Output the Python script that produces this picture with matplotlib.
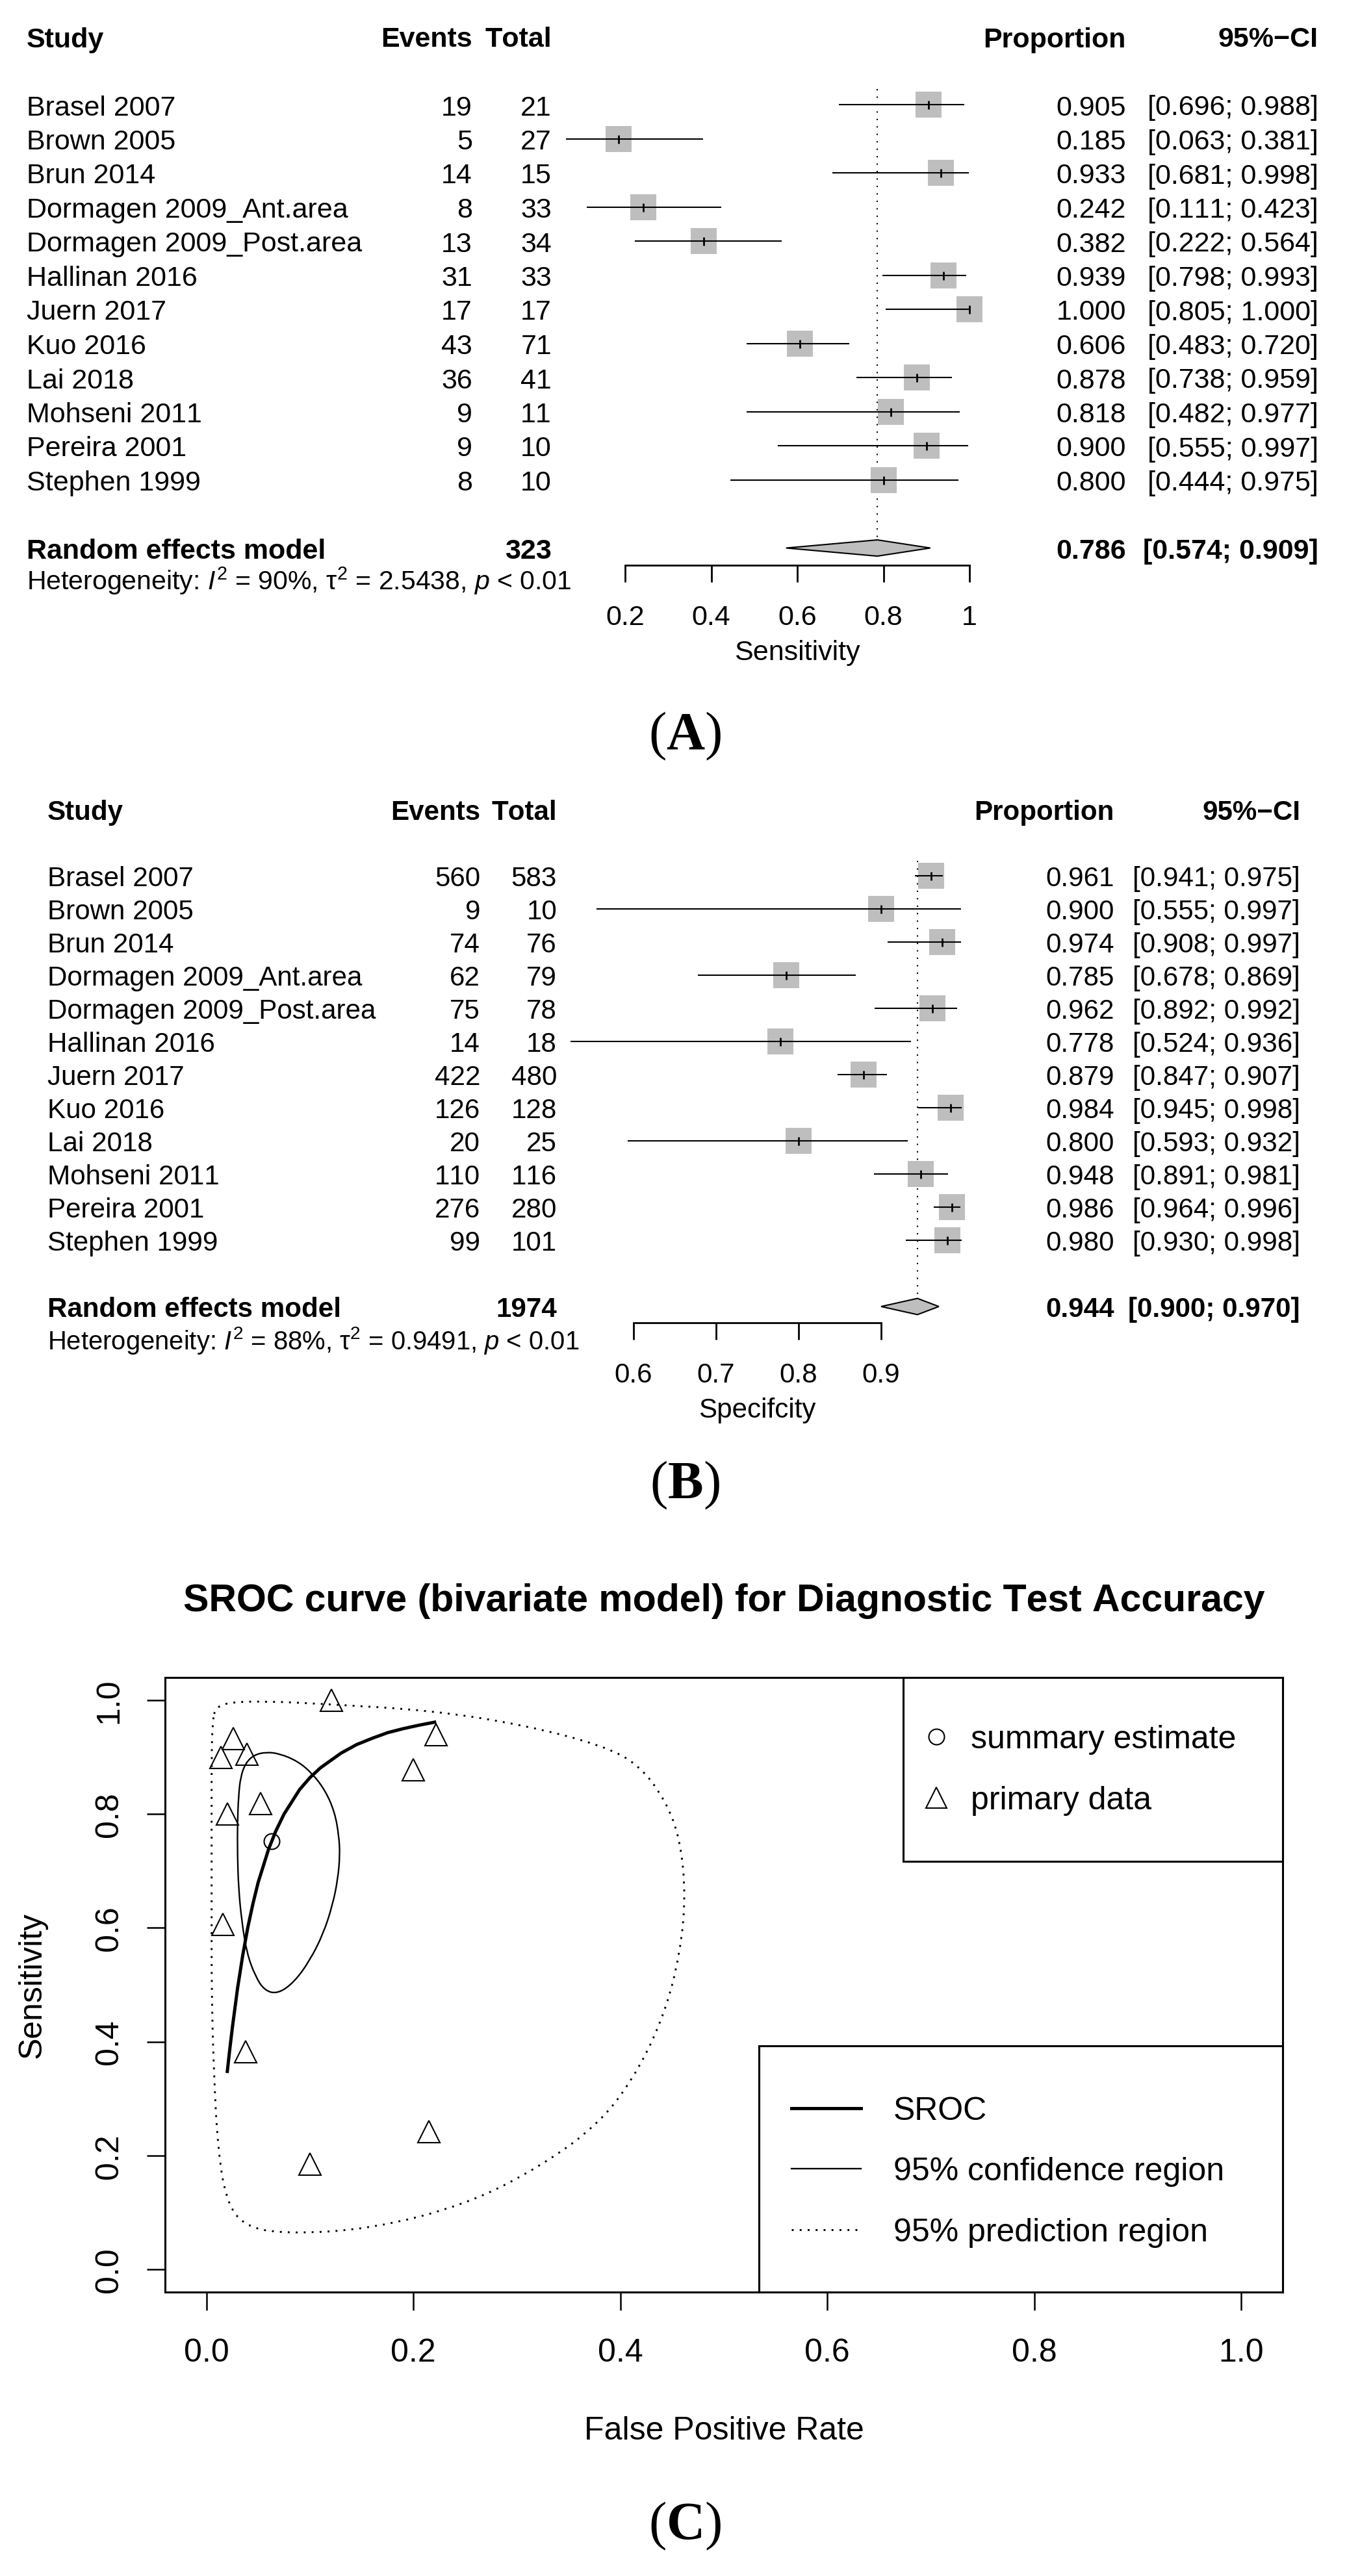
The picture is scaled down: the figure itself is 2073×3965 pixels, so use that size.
import matplotlib
matplotlib.use("Agg")
import matplotlib.pyplot as plt
from matplotlib.transforms import blended_transform_factory
from matplotlib.patches import Rectangle, Polygon, PathPatch
from matplotlib.path import Path
from matplotlib.lines import Line2D

plt.rcParams['font.family'] = ['Liberation Sans', 'DejaVu Sans']
plt.rcParams['mathtext.fontset'] = 'custom'
plt.rcParams['mathtext.rm'] = 'Liberation Sans'
plt.rcParams['mathtext.it'] = 'Liberation Sans:italic'
plt.rcParams['mathtext.bf'] = 'Liberation Serif:bold'
try:
    plt.rcParams['text.kerning_factor'] = 12   # R draws without kerning
except Exception:
    pass

# ---------------------------------------------------------------- data
studies = ["Brasel 2007", "Brown 2005", "Brun 2014", "Dormagen 2009_Ant.area",
           "Dormagen 2009_Post.area", "Hallinan 2016", "Juern 2017", "Kuo 2016",
           "Lai 2018", "Mohseni 2011", "Pereira 2001", "Stephen 1999"]

sens_events = [19, 5, 14, 8, 13, 31, 17, 43, 36, 9, 9, 8]
sens_totals = [21, 27, 15, 33, 34, 33, 17, 71, 41, 11, 10, 10]
sens_prop = [0.905, 0.185, 0.933, 0.242, 0.382, 0.939, 1.000, 0.606, 0.878, 0.818, 0.900, 0.800]
sens_lo = [0.696, 0.063, 0.681, 0.111, 0.222, 0.798, 0.805, 0.483, 0.738, 0.482, 0.555, 0.444]
sens_hi = [0.988, 0.381, 0.998, 0.423, 0.564, 0.993, 1.000, 0.720, 0.959, 0.977, 0.997, 0.975]
sens_pooled = [0.786, 0.574, 0.909]
sens_total = 323
sens_het = r"Heterogeneity: $\mathit{I}^2$ = 90%, τ$^2$ = 2.5438, $\mathit{p}$ < 0.01"
sens_ticks = [0.2, 0.4, 0.6, 0.8, 1.0]
sens_ticklabels = ["0.2", "0.4", "0.6", "0.8", "1"]

spec_events = [560, 9, 74, 62, 75, 14, 422, 126, 20, 110, 276, 99]
spec_totals = [583, 10, 76, 79, 78, 18, 480, 128, 25, 116, 280, 101]
spec_prop = [0.961, 0.900, 0.974, 0.785, 0.962, 0.778, 0.879, 0.984, 0.800, 0.948, 0.986, 0.980]
spec_lo = [0.941, 0.555, 0.908, 0.678, 0.892, 0.524, 0.847, 0.945, 0.593, 0.891, 0.964, 0.930]
spec_hi = [0.975, 0.997, 0.997, 0.869, 0.992, 0.936, 0.907, 0.998, 0.932, 0.981, 0.996, 0.998]
spec_pooled = [0.944, 0.900, 0.970]
spec_total = 1974
spec_het = r"Heterogeneity: $\mathit{I}^2$ = 88%, τ$^2$ = 0.9491, $\mathit{p}$ < 0.01"
spec_ticks = [0.6, 0.7, 0.8, 0.9]
spec_ticklabels = ["0.6", "0.7", "0.8", "0.9"]

# SROC panel (bivariate model)
summary_fpr = [0.063]
summary_sens = [0.752]
sroc_fpr = [0.020, 0.0225, 0.025, 0.030, 0.035, 0.040, 0.045, 0.050, 0.060, 0.067, 0.075,
            0.090, 0.100, 0.110, 0.130, 0.145, 0.160, 0.175, 0.190, 0.205, 0.222]
sroc_sens = [0.345, 0.386, 0.424, 0.493, 0.551, 0.601, 0.643, 0.680, 0.738, 0.770, 0.800,
             0.843, 0.864, 0.881, 0.907, 0.922, 0.933, 0.943, 0.950, 0.956, 0.962]
conf_fpr = [0.058, 0.071, 0.088, 0.102, 0.115, 0.124, 0.128, 0.129, 0.127, 0.122, 0.113,
            0.100, 0.085, 0.069, 0.056, 0.047, 0.039, 0.034, 0.031, 0.030, 0.030, 0.031,
            0.033, 0.038, 0.046]
conf_sens = [0.909, 0.906, 0.893, 0.872, 0.841, 0.803, 0.762, 0.728, 0.686, 0.641, 0.590,
             0.543, 0.505, 0.484, 0.490, 0.516, 0.556, 0.613, 0.671, 0.728, 0.785, 0.831,
             0.866, 0.890, 0.904]
pred_fpr = [0.009, 0.024, 0.060, 0.109, 0.219, 0.308, 0.382, 0.418, 0.444, 0.458, 0.463,
            0.458, 0.444, 0.418, 0.382, 0.326, 0.253, 0.160, 0.076, 0.036, 0.019, 0.011,
            0.007, 0.005, 0.005, 0.005, 0.005, 0.006]
pred_sens = [0.988, 0.997, 0.998, 0.994, 0.982, 0.956, 0.921, 0.887, 0.823, 0.754, 0.657,
             0.559, 0.455, 0.351, 0.260, 0.184, 0.115, 0.071, 0.062, 0.076, 0.121, 0.212,
             0.351, 0.489, 0.628, 0.768, 0.907, 0.964]
c_ticks = [0.0, 0.2, 0.4, 0.6, 0.8, 1.0]
c_ticklabels = ["0.0", "0.2", "0.4", "0.6", "0.8", "1.0"]

# ---------------------------------------------------------------- figure
W, H, DPI = 2073, 3966, 100
PX = 72.0 / DPI  # points per pixel
fig = plt.figure(figsize=(W / DPI, H / DPI), dpi=DPI, facecolor="white")


def add_axes_px(left, top, right, bottom):
    return fig.add_axes([left / W, 1 - bottom / H, (right - left) / W, (bottom - top) / H])


GREY = "#BEBEBE"


def forest(p):
    ax = add_axes_px(p["tick0_px"], p["top_px"], p["tick1_px"], p["axis_px"])
    ax.patch.set_visible(False)
    ax.set_xlim(p["ticks"][0], p["ticks"][-1])
    r0, rh = p["row0_px"], p["row_px"]
    ax.set_ylim((p["axis_px"] - r0) / rh, (p["top_px"] - r0) / rh)
    for s in ["top", "left", "right"]:
        ax.spines[s].set_visible(False)
    ax.spines["bottom"].set_linewidth(2.0)
    ax.set_yticks([])
    ax.set_xticks(p["ticks"], p["ticklabels"])
    ax.tick_params(axis="x", direction="out", length=26 * PX, width=2.0,
                   pad=34 * PX, labelsize=p["fs"])
    ax.set_xlabel(p["xlabel"], fontsize=p["fs"], labelpad=14 * PX)

    n = len(p["studies"])
    rows = list(range(n))
    re_row = n + 1
    fs = p["fs"]
    off = 0.36 * fs / PX / rh
    tr = blended_transform_factory(fig.transFigure, ax.transData)
    cx = {k: v / W for k, v in p["cols"].items()}

    # header
    hdr = dict(transform=tr, fontsize=fs, fontweight="bold", va="baseline")
    ax.text(cx["study"], -2 + off, "Study", ha="left", **hdr)
    ax.text(cx["events"], -2 + off, "Events", ha="right", **hdr)
    ax.text(cx["total"], -2 + off, "Total", ha="right", **hdr)
    ax.text(cx["prop"], -2 + off, "Proportion", ha="right", **hdr)
    ax.text(cx["ci"], -2 + off, "95%\u2212CI", ha="right", **hdr)

    # study rows
    reg = dict(transform=tr, fontsize=fs, va="baseline")
    for i in rows:
        y = i + off
        ax.text(cx["study"], y, p["studies"][i], ha="left", **reg)
        ax.text(cx["events"], y, str(p["events"][i]), ha="right", **reg)
        ax.text(cx["total"], y, str(p["totals"][i]), ha="right", **reg)
        ax.text(cx["prop"], y, f"{p['prop'][i]:.3f}", ha="right", **reg)
        ax.text(cx["ci"], y, f"[{p['lo'][i]:.3f}; {p['hi'][i]:.3f}]", ha="right", **reg)

    # pooled row
    est, lo, hi = p["pooled"]
    ax.text(cx["study"], re_row + off, "Random effects model", ha="left", **hdr)
    ax.text(cx["total"], re_row + off, str(p["total"]), ha="right", **hdr)
    ax.text(cx["prop"], re_row + off, f"{est:.3f}", ha="right", **hdr)
    ax.text(cx["ci"], re_row + off, f"[{lo:.3f}; {hi:.3f}]", ha="right", **hdr)
    ax.text(cx["study"], re_row + p["het_drow"] + off * p["het_fs"] / fs, p["het"],
            ha="left", va="baseline", transform=tr, fontsize=p["het_fs"])

    # reference line at pooled estimate
    ax.vlines(est, -0.45, re_row, colors="black", lw=1.5, linestyles=(0, (1, 4.5)),
              zorder=1, clip_on=False)
    # squares, CIs, estimate ticks
    ax.plot(p["prop"], rows, ls="none", marker="s", ms=40 * PX, mfc=GREY, mec=GREY,
            mew=0, zorder=2, clip_on=False)
    ax.hlines(rows, p["lo"], p["hi"], colors="black", lw=1.5, zorder=3, clip_on=False)
    ax.plot(p["prop"], rows, ls="none", marker="|", ms=13 * PX, mew=2.0, color="black",
            zorder=4, clip_on=False)
    dh = 12.5 / rh
    ax.add_patch(Polygon([[lo, re_row], [est, re_row - dh], [hi, re_row], [est, re_row + dh]],
                         closed=True, fc=GREY, ec="black", lw=1.5, zorder=5, clip_on=False))
    return ax


forest(dict(studies=studies, events=sens_events, totals=sens_totals, prop=sens_prop,
            lo=sens_lo, hi=sens_hi, pooled=sens_pooled, total=sens_total, het=sens_het,
            ticks=sens_ticks, ticklabels=sens_ticklabels, xlabel="Sensitivity",
            tick0_px=962, tick1_px=1492, top_px=0, axis_px=871, row0_px=162, row_px=52.5,
            fs=31, het_fs=29.5, het_drow=0.93,
            cols=dict(study=41, events=727, total=849, prop=1733, ci=2029)))

forest(dict(studies=studies, events=spec_events, totals=spec_totals, prop=spec_prop,
            lo=spec_lo, hi=spec_hi, pooled=spec_pooled, total=spec_total, het=spec_het,
            ticks=spec_ticks, ticklabels=spec_ticklabels, xlabel="Specifcity",
            tick0_px=975, tick1_px=1356, top_px=1180, axis_px=2037, row0_px=1349, row_px=51,
            fs=30.3, het_fs=28.8, het_drow=1.0,
            cols=dict(study=73, events=739, total=857, prop=1715, ci=2001)))

# ---------------------------------------------------------------- SROC panel
fpr_points = [1 - s for s in spec_prop]
sens_points = sens_prop

axc = add_axes_px(254, 2583, 1974, 3529)
axc.set_xlim(-0.04, 1.04)
axc.set_ylim(-0.04, 1.04)
for s in axc.spines.values():
    s.set_linewidth(2.2)
axc.set_xticks(c_ticks, c_ticklabels)
axc.set_yticks(c_ticks, c_ticklabels, rotation=90, va="center")
axc.tick_params(direction="out", length=28 * PX, width=1.8, labelsize=36)
axc.tick_params(axis="x", pad=42 * PX)
axc.tick_params(axis="y", pad=35 * PX)
axc.set_title("SROC curve (bivariate model) for Diagnostic Test Accuracy",
              fontsize=42.5, fontweight="bold", pad=103 * PX)
axc.set_xlabel("False Positive Rate", fontsize=36, labelpad=74 * PX)
axc.set_ylabel("Sensitivity", fontsize=36, labelpad=72 * PX)


def closed_curve(xs, ys):
    """Smooth closed outline through the read-off region boundary points."""
    pts = list(zip(xs, ys))
    n = len(pts)
    mids = [((pts[i][0] + pts[(i + 1) % n][0]) / 2, (pts[i][1] + pts[(i + 1) % n][1]) / 2)
            for i in range(n)]
    verts, codes = [mids[-1]], [Path.MOVETO]
    for i in range(n):
        verts += [pts[i], mids[i]]
        codes += [Path.CURVE3, Path.CURVE3]
    return Path(verts, codes)


PRED_LS = (0, (1, 3.2))
axc.add_patch(PathPatch(closed_curve(pred_fpr, pred_sens), fill=False, ec="black",
                        lw=2.1, ls=PRED_LS))
axc.add_patch(PathPatch(closed_curve(conf_fpr, conf_sens), fill=False, ec="black", lw=1.7))
axc.plot(sroc_fpr, sroc_sens, color="black", lw=3.6, solid_capstyle="butt")
axc.plot(fpr_points, sens_points, ls="none", marker="^", ms=34 * PX, mfc="none",
         mec="black", mew=1.5, clip_on=False)
axc.plot(summary_fpr, summary_sens, ls="none", marker="o", ms=24 * PX, mfc="none",
         mec="black", mew=1.5)

# legends
LFS = 36
h_sum = Line2D([], [], ls="none", marker="o", ms=24 * PX, mfc="none", mec="black", mew=1.5)
h_pri = Line2D([], [], ls="none", marker="^", ms=32 * PX, mfc="none", mec="black", mew=1.5)
leg1 = axc.legend([h_sum, h_pri], ["summary estimate", "primary data"], loc="upper left",
                  bbox_to_anchor=(1416 / W, 1 - 2655 / H), bbox_transform=fig.transFigure,
                  frameon=False, fontsize=LFS, borderpad=0, borderaxespad=0,
                  handlelength=1.0, handletextpad=0.55, labelspacing=0.96)
axc.add_artist(leg1)
h_sroc = Line2D([], [], color="black", lw=3.6)
h_conf = Line2D([], [], color="black", lw=1.7)
h_pred = Line2D([], [], color="black", lw=2.1, ls=PRED_LS)
axc.legend([h_sroc, h_conf, h_pred], ["SROC", "95% confidence region", "95% prediction region"],
           loc="upper left", bbox_to_anchor=(1218 / W, 1 - 3227 / H),
           bbox_transform=fig.transFigure, frameon=False, fontsize=LFS, borderpad=0,
           borderaxespad=0, handlelength=2.14, handletextpad=1.0, labelspacing=0.95)
axc.add_patch(Rectangle(((1390 - 254) / 1720, (3529 - 2866) / 946), (1974 - 1390) / 1720,
                        (2866 - 2583) / 946, transform=axc.transAxes, fill=False,
                        ec="black", lw=2.2, clip_on=False, zorder=6))
axc.add_patch(Rectangle(((1168 - 254) / 1720, 0), (1974 - 1168) / 1720,
                        (3529 - 3150) / 946, transform=axc.transAxes, fill=False,
                        ec="black", lw=2.2, clip_on=False, zorder=6))

# panel letters
for letter, ypx in [("A", 1133), ("B", 2286), ("C", 3888)]:
    fig.text(1054 / W, 1 - ypx / H, "(" + r"$\mathbf{" + letter + "}$" + ")",
             family="Liberation Serif", fontsize=59, ha="center", va="center")

fig.savefig("out.png", dpi=DPI, facecolor="white")
